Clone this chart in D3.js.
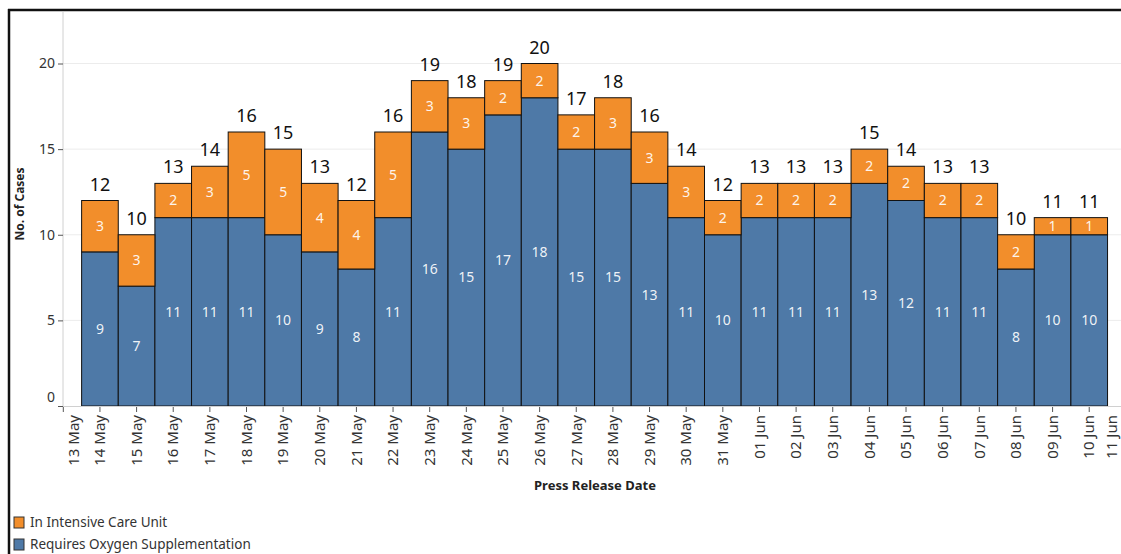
<!DOCTYPE html>
<html>
<head>
<meta charset="utf-8">
<script src="https://cdn.jsdelivr.net/npm/d3@7"></script>
<style>
  body { margin: 0; background: #fff; }
  svg { display: block; font-family: "Noto Sans", "DejaVu Sans", sans-serif; }
</style>
</head>
<body>
<script>
// press release dates (2020), one bar per day
const dates = ["14 May", "15 May", "16 May", "17 May", "18 May", "19 May", "20 May", "21 May",
  "22 May", "23 May", "24 May", "25 May", "26 May", "27 May", "28 May", "29 May", "30 May",
  "31 May", "01 Jun", "02 Jun", "03 Jun", "04 Jun", "05 Jun", "06 Jun", "07 Jun", "08 Jun",
  "09 Jun", "10 Jun"];
const oxygen = [9, 7, 11, 11, 11, 10, 9, 8, 11, 16, 15, 17, 18, 15, 15, 13, 11, 10, 11, 11, 11, 13, 12, 11, 11, 8, 10, 10];
const icu = [3, 3, 2, 3, 5, 5, 4, 4, 5, 3, 3, 2, 2, 2, 3, 3, 3, 2, 2, 2, 2, 2, 2, 2, 2, 2, 1, 1];
const yTicks = [0, 5, 10, 15, 20];
const seriesNames = ["In Intensive Care Unit", "Requires Oxygen Supplementation"];
const colors = {oxygen: "#4e79a7", icu: "#f28e2b"};

const width = 1121, height = 554;
const parse = d3.timeParse("%d %b %Y");
const rows = dates.map((d, i) => ({
  date: parse(d + " 2020"), oxygen: oxygen[i], icu: icu[i], total: oxygen[i] + icu[i]
}));

const svg = d3.create("svg")
  .attr("width", width)
  .attr("height", height)
  .attr("viewBox", `0 0 ${width} ${height}`);

// x: continuous day axis, 13 May .. 11 Jun
const x = d3.scaleTime()
  .domain([parse("13 May 2020"), parse("11 Jun 2020")])
  .range([63.3, 63.3 + 29 * 36.64]);
const day = 36.64;
const y = d3.scaleLinear().domain([0, 20]).range([406, 63.5]);

// frame (left + top)
svg.append("line").attr("x1", 9).attr("x2", 9).attr("y1", 9).attr("y2", height)
  .attr("stroke", "#111").attr("stroke-width", 2.5);
svg.append("line").attr("x1", 8).attr("x2", width).attr("y1", 10).attr("y2", 10)
  .attr("stroke", "#111").attr("stroke-width", 2.5);

// gridlines
svg.append("g").selectAll("line")
  .data(yTicks.filter(d => d > 0))
  .join("line")
  .attr("x1", 63).attr("x2", width)
  .attr("y1", d => y(d)).attr("y2", d => y(d))
  .attr("stroke", "#ececec");

// y axis
const yAxis = svg.append("g")
  .attr("transform", "translate(63,0)")
  .call(d3.axisLeft(y).tickValues(yTicks).tickSize(5).tickPadding(3));
yAxis.select(".domain").attr("stroke", "#d0d0d0").attr("d", "M0,12V406");
yAxis.selectAll(".tick line").attr("stroke", "#555");
yAxis.selectAll(".tick text").attr("font-size", 14).attr("fill", "#333")
  .attr("font-family", "Noto Sans, sans-serif");
yAxis.selectAll(".tick").filter(d => d === 0).select("text").attr("dy", "-0.3em");

svg.append("text")
  .attr("transform", "translate(24,204) rotate(-90)")
  .attr("text-anchor", "middle")
  .attr("font-size", 12).attr("font-weight", "bold").attr("fill", "#222")
  .text("No. of Cases");

// stacked bars
const stack = d3.stack().keys(["oxygen", "icu"])(rows);
const bars = svg.append("g");
stack.forEach(layer => {
  bars.append("g").selectAll("rect")
    .data(layer)
    .join("rect")
    .attr("x", d => x(d.data.date) - day / 2)
    .attr("width", day)
    .attr("y", d => y(d[1]))
    .attr("height", d => y(d[0]) - y(d[1]))
    .attr("fill", colors[layer.key])
    .attr("stroke", "#111")
    .attr("stroke-width", 1);
  bars.append("g").selectAll("text")
    .data(layer)
    .join("text")
    .attr("x", d => x(d.data.date))
    .attr("y", d => y((d[0] + d[1]) / 2))
    .attr("dy", "0.35em")
    .attr("text-anchor", "middle")
    .attr("font-size", 14)
    .attr("fill", "#fff").attr("fill-opacity", 0.92)
    .text(d => d[1] - d[0]);
});

// totals
svg.append("g").selectAll("text")
  .data(rows)
  .join("text")
  .attr("x", d => x(d.date))
  .attr("y", d => y(d.total) - 10)
  .attr("text-anchor", "middle")
  .attr("font-size", 18)
  .attr("fill", "#111")
  .text(d => d.total);

// baseline + x axis
svg.append("line").attr("x1", 63).attr("x2", width).attr("y1", 406.5).attr("y2", 406.5)
  .attr("stroke", "#d0d0d0");
const xTickDates = d3.timeDay.range(parse("13 May 2020"), parse("12 Jun 2020"));
const fmt = d3.timeFormat("%d %b");
const xg = svg.append("g");
xg.selectAll("line")
  .data(xTickDates.filter(d => x(d) < width))
  .join("line")
  .attr("x1", d => x(d)).attr("x2", d => x(d))
  .attr("y1", 407).attr("y2", 412)
  .attr("stroke", "#555");
xg.selectAll("text")
  .data(xTickDates)
  .join("text")
  .attr("transform", d => `translate(${Math.max(74, Math.min(1112, x(d)))},415) rotate(-90)`)
  .attr("text-anchor", "end")
  .attr("dy", "0.35em")
  .attr("font-size", 15)
  .attr("fill", "#333")
  .text(d => fmt(d));

svg.append("text")
  .attr("x", 595).attr("y", 490)
  .attr("text-anchor", "middle")
  .attr("font-size", 13).attr("font-weight", "bold").attr("fill", "#222")
  .text("Press Release Date");

// legend
const legend = svg.append("g").attr("transform", "translate(14,517)");
seriesNames.forEach((name, i) => {
  const g = legend.append("g").attr("transform", `translate(0,${i * 22})`);
  g.append("rect").attr("width", 10).attr("height", 11)
    .attr("fill", i === 0 ? colors.icu : colors.oxygen)
    .attr("stroke", "#333");
  g.append("text").attr("x", 16).attr("y", 10)
    .attr("font-size", 13.5).attr("fill", "#333")
    .text(name);
});

document.body.append(svg.node());
</script>
</body>
</html>
